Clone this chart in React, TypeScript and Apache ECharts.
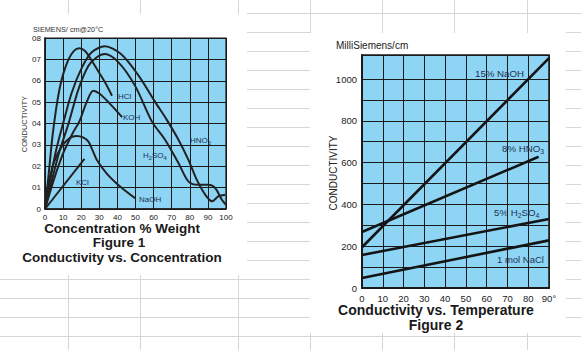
import React, { useEffect, useRef } from 'react';
import * as echarts from 'echarts';

const FONT = '"Liberation Sans", Arial, Helvetica, sans-serif';
const BLUE = '#8ed5f5';
const INK = '#1a1a1a';
const LABEL_INK = '#22314f';
const SHEET = '#d6d6d6';

// ---------- Figure 1: conductivity (x0.1 S/cm) vs concentration (% weight)
const fig1XTicks = [0, 10, 20, 30, 40, 50, 60, 70, 80, 90, 100];
const fig1YTicks = ['0', '01', '02', '03', '04', '05', '06', '07', '08'];
const hcl = [[0, 0], [2, 1.6], [4, 3.3], [6, 4.6], [8, 5.6], [10, 6.3], [13, 7.0], [16, 7.4], [19, 7.52], [22, 7.4], [25, 7.05], [29, 6.5], [33, 5.95], [37, 5.3]];
const hno3 = [[0, 0], [3, 1.4], [6, 2.7], [10, 4.0], [14.8, 5.45], [20.3, 6.6], [25.8, 7.33], [33, 7.61], [42, 7.25], [51.7, 6.24], [61, 4.99], [67.3, 4.17], [73.8, 3.23], [79.3, 2.29], [83.9, 1.36], [88.6, 0.66], [92.3, 0.36], [95.9, 0.6], [99.6, 0.67]];
const h2so4 = [[0, 0], [4, 1.4], [8, 2.7], [12.9, 3.97], [18.5, 5.61], [24, 6.7], [28.6, 7.1], [33, 7.25], [40.6, 6.86], [49.8, 5.76], [59, 4.1], [66.4, 3.23], [73.8, 2.14], [79.3, 1.28], [84.9, 1.13], [90.4, 1.13], [94.1, 0.97], [97.8, 0.42], [100, 0.2]];
const koh = [[0, 0], [5, 1.4], [10, 2.6], [15, 3.5], [19, 4.1], [23, 5.0], [26.7, 5.53], [30, 5.4], [35, 5.0], [42.6, 4.3]];
const naohConc = [[0, 0], [1, 0.8], [2.8, 1.5], [5, 2.2], [9.2, 2.92], [13.8, 3.33], [17.5, 3.42], [21, 3.35], [24, 3.15], [26, 2.8], [28.6, 2.3], [34, 1.67], [41.5, 1.05], [49.8, 0.5]];
const kcl = [[0, 0], [21.8, 2.34]];

// ---------- Figure 2: conductivity (mS/cm) vs temperature (deg C)
const fig2XTicks = [0, 10, 20, 30, 40, 50, 60, 70, 80, 90];
const fig2YTicks = [0, 200, 400, 600, 800, 1000];
const fig2MinorGrid = [100, 300, 500, 700, 900];
const naoh15 = [[0, 195], [90, 1100]];
const hno3_8 = [[0, 268], [85, 628]];
const h2so4_5 = [[0, 158], [90, 330]];
const nacl1 = [[0, 48], [90, 228]];

let measureCtx: CanvasRenderingContext2D | null = null;
function textWidth(t: string, size: number, weight = 'normal') {
  if (!measureCtx) measureCtx = document.createElement('canvas').getContext('2d');
  if (!measureCtx) return t.length * size * 0.55;
  measureCtx.font = `${weight} ${size}px ${FONT}`;
  return measureCtx.measureText(t).width;
}

function txt(text: string, x: number, y: number, size: number, fill: string, extra: any = {}) {
  return {
    type: 'text', x, y, silent: true, z: 50,
    rotation: extra.rotation || 0,
    style: {
      text, fontSize: size, fontFamily: FONT, fill,
      fontWeight: extra.weight || 'normal',
      align: extra.align || 'left', verticalAlign: 'middle',
    },
  };
}

// parts: [text, isSubscript]
function subLabel(parts: [string, boolean][], x: number, y: number, size: number, fill: string) {
  const els: any[] = [];
  let cx = x;
  parts.forEach(([t, sub]) => {
    const s = sub ? size * 0.72 : size;
    els.push(txt(t, cx, sub ? y + size * 0.32 : y, s, fill));
    cx += textWidth(t, s);
  });
  return els;
}

function sheetLines() {
  const els: any[] = [];
  const L = (x1: number, y1: number, x2: number, y2: number) =>
    els.push({ type: 'line', silent: true, z: 0, shape: { x1, y1, x2, y2 }, style: { stroke: SHEET, lineWidth: 1 } });
  [68.5, 140.5, 238.5].forEach((x) => { L(x, 0, x, 14); L(x, 275, x, 350); });
  [310.5, 382.5, 454.5, 527.5].forEach((x) => { L(x, 0, x, 33); L(x, 333, x, 350); });
  L(247, 13.5, 581, 13.5);
  for (let k = 0; k <= 16; k++) {
    const y = Math.round(32 + 19.03 * k) + 0.5;
    if (y > 334) { L(0, y, 581, y); }
    else if (y > 276) { L(0, y, 310, y); L(566, y, 581, y); }
    else { L(247, y, 310, y); L(566, y, 581, y); }
  }
  return els;
}

export default function App() {
  const ref = useRef<HTMLDivElement>(null);
  useEffect(() => {
    if (!ref.current) return;
    const chart = echarts.init(ref.current, undefined, { renderer: 'svg' });
    const axisLine = { show: true, onZero: false, lineStyle: { color: INK, width: 1.5 } };
    const split = { show: true, lineStyle: { color: INK, width: 1 } };
    const curve = (data: number[][]) => ({
      type: 'line', xAxisIndex: 0, yAxisIndex: 0, data, showSymbol: false, symbol: 'none',
      smooth: 0.3, silent: true, lineStyle: { color: '#222', width: 2 },
    });
    const straight = (data: number[][], extra: any = {}) => ({
      type: 'line', xAxisIndex: 1, yAxisIndex: 1, data, showSymbol: false, symbol: 'none',
      silent: true, lineStyle: { color: '#141414', width: 2.6 }, ...extra,
    });

    const graphics: any[] = [
      ...sheetLines(),
      // figure 1 texts
      txt('SIEMENS/ cm@20°C', 33, 29, 7.3, '#333'),
      txt('CONDUCTIVITY', 24, 124, 7.5, '#333', { rotation: Math.PI / 2, align: 'center' }),
      txt('HCl', 118, 96, 8, LABEL_INK),
      txt('KOH', 123, 117, 8, LABEL_INK),
      ...subLabel([['HNO', false], ['3', true]], 190, 140, 8, LABEL_INK),
      ...subLabel([['H', false], ['2', true], ['SO', false], ['4', true]], 143, 155, 8, LABEL_INK),
      txt('KCl', 76, 182, 8, LABEL_INK),
      txt('NaOH', 139, 199, 8, LABEL_INK),
      txt('Concentration % Weight', 122, 228, 13.5, '#1a1a1a', { weight: 'bold', align: 'center' }),
      txt('Figure 1', 119, 242.5, 13.5, '#1a1a1a', { weight: 'bold', align: 'center' }),
      txt('Conductivity vs. Concentration', 122, 257, 13.5, '#1a1a1a', { weight: 'bold', align: 'center' }),
      // figure 2 texts
      txt('MilliSiemens/cm', 336, 45, 10, '#222'),
      txt('CONDUCTIVITY', 333, 173, 10, '#222', { rotation: Math.PI / 2, align: 'center' }),
      txt('15% NaOH', 475, 73, 9.7, LABEL_INK),
      ...subLabel([['8% HNO', false], ['3', true]], 502, 148, 9.7, LABEL_INK),
      ...subLabel([['5% H', false], ['2', true], ['SO', false], ['4', true]], 494, 212, 9.7, LABEL_INK),
      txt('1 mol NaCl', 497, 259, 9.5, LABEL_INK),
      txt('Conductivity vs. Temperature', 436, 310, 14, '#1a1a1a', { weight: 'bold', align: 'center' }),
      txt('Figure 2', 436, 325, 14, '#1a1a1a', { weight: 'bold', align: 'center' }),
    ];

    chart.setOption({
      animation: false,
      backgroundColor: '#ffffff',
      textStyle: { fontFamily: FONT },
      grid: [
        { left: 45, top: 38, width: 181, height: 171, show: true, backgroundColor: BLUE, borderColor: INK, borderWidth: 1.2 },
        { left: 362, top: 55, width: 187, height: 233, show: true, backgroundColor: BLUE, borderColor: INK, borderWidth: 1.5 },
      ],
      xAxis: [
        {
          gridIndex: 0, type: 'value', min: fig1XTicks[0], max: fig1XTicks[fig1XTicks.length - 1], interval: 10,
          axisLine, axisTick: { show: false }, splitLine: split,
          axisLabel: { fontSize: 8, color: '#222', margin: 4, fontFamily: FONT },
        },
        {
          gridIndex: 1, type: 'value', min: fig2XTicks[0], max: fig2XTicks[fig2XTicks.length - 1], interval: 10,
          axisLine: { ...axisLine, lineStyle: { color: INK, width: 2 } }, axisTick: { show: false }, splitLine: split,
          axisLabel: {
            fontSize: 9.5, color: '#222', margin: 5, fontFamily: FONT,
            formatter: (v: number) => (v === 90 ? '90°' : String(v)),
          },
        },
      ],
      yAxis: [
        {
          gridIndex: 0, type: 'value', min: 0, max: fig1YTicks.length - 1, interval: 1,
          axisLine, axisTick: { show: false }, splitLine: split,
          axisLabel: { fontSize: 8, color: '#222', margin: 4, fontFamily: FONT, formatter: (v: number) => fig1YTicks[v] ?? '' },
        },
        {
          gridIndex: 1, type: 'value', min: 0, max: 1115, interval: 200,
          axisLine: { ...axisLine, lineStyle: { color: INK, width: 2 } }, axisTick: { show: false }, splitLine: split,
          axisLabel: {
            fontSize: 9.5, color: '#222', margin: 5, fontFamily: FONT,
            formatter: (v: number) => (fig2YTicks.includes(v) ? String(v) : ''),
          },
        },
      ],
      series: [
        curve(hcl), curve(hno3), curve(h2so4), curve(koh), curve(naohConc), curve(kcl),
        straight(naoh15), straight(hno3_8), straight(h2so4_5),
        straight(nacl1, {
          markLine: {
            silent: true, symbol: ['none', 'none'], label: { show: false },
            lineStyle: { color: INK, width: 1, type: 'solid' },
            data: fig2MinorGrid.map((v) => ({ yAxis: v })),
          },
        }),
      ],
      graphic: { elements: graphics },
    });
    return () => chart.dispose();
  }, []);
  return <div ref={ref} style={{ position: 'fixed', left: 0, top: 0, width: 581, height: 350 }} />;
}
